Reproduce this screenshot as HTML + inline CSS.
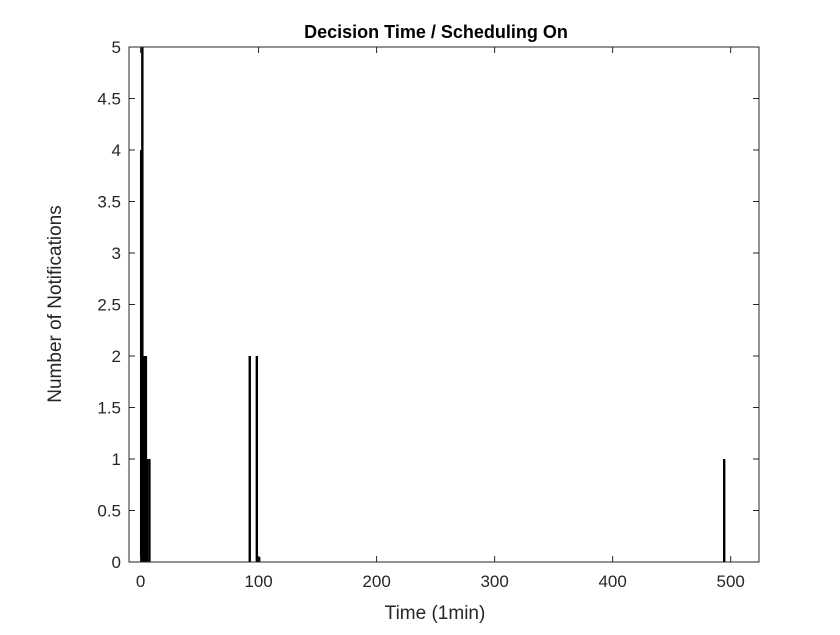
<!DOCTYPE html>
<html><head><meta charset="utf-8"><style>
body{margin:0;background:#fff}
svg text{font-family:"Liberation Sans",Arial,sans-serif;fill:#262626}
</style></head><body>
<svg id="chart" width="840" height="630" xmlns="http://www.w3.org/2000/svg">
<rect width="840" height="630" fill="#fff"/>
<text x="436" y="38" text-anchor="middle" font-size="18" font-weight="bold" style="fill:#000">Decision Time / Scheduling On</text>
<text x="435" y="619" text-anchor="middle" font-size="19">Time (1min)</text>
<text transform="translate(61,304) rotate(-90)" text-anchor="middle" font-size="19">Number of Notifications</text>
<g id="bars"></g><g id="axes"></g>
</svg>
<script>
const binStarts=[0,1,3,4,5,7,92,98,100,494];
const counts=[4,7,2,2,1,1,2,2,0.05,1];
const xTicks=[0,100,200,300,400,500];
const yTicks=[0,0.5,1,1.5,2,2.5,3,3.5,4,4.5,5];
const X0=129,X1=759,Y0=562,Y1=47;
const xmin=-9.8,xmax=524,ymin=0,ymax=5;
const sx=v=>X0+(v-xmin)/(xmax-xmin)*(X1-X0);
const sy=v=>Y0-(Math.min(v,ymax)-ymin)/(ymax-ymin)*(Y0-Y1);
const NS="http://www.w3.org/2000/svg";
const bars=document.getElementById('bars');
binStarts.forEach((b,i)=>{
 const r=document.createElementNS(NS,'rect');
 const x=sx(b),w=Math.max(sx(b+1)-x,1.2)+1.2,y=sy(counts[i]);
 r.setAttribute('x',x-0.6);r.setAttribute('y',y);r.setAttribute('width',w);r.setAttribute('height',Y0-y);
 r.setAttribute('fill','#000');
 
 
 bars.appendChild(r);
});
const ax=document.getElementById('axes');
const box=document.createElementNS(NS,'rect');
box.setAttribute('x',X0);box.setAttribute('y',Y1);box.setAttribute('width',X1-X0);box.setAttribute('height',Y0-Y1);
box.setAttribute('fill','none');box.setAttribute('stroke','#262626');box.setAttribute('stroke-width','1');


ax.appendChild(box);
function line(x1,y1,x2,y2){const l=document.createElementNS(NS,'line');l.setAttribute('x1',x1);l.setAttribute('y1',y1);l.setAttribute('x2',x2);l.setAttribute('y2',y2);l.setAttribute('stroke','#262626');ax.appendChild(l);return l;}
xTicks.forEach(t=>{const x=sx(t);line(x,Y0,x,Y0-6);line(x,Y1,x,Y1+6);
 const tx=document.createElementNS(NS,'text');tx.setAttribute('x',x);tx.setAttribute('y',Y0+25);tx.setAttribute('text-anchor','middle');tx.setAttribute('font-size','17');tx.textContent=t;
 
 
 ax.appendChild(tx);});
yTicks.forEach(t=>{const y=sy(t);line(X0,y,X0+6,y);line(X1,y,X1-6,y);
 const tx=document.createElementNS(NS,'text');tx.setAttribute('x',X0-8);tx.setAttribute('y',y+6);tx.setAttribute('text-anchor','end');tx.setAttribute('font-size','17');tx.textContent=t;
 
 
 ax.appendChild(tx);});
</script>
</body></html>
